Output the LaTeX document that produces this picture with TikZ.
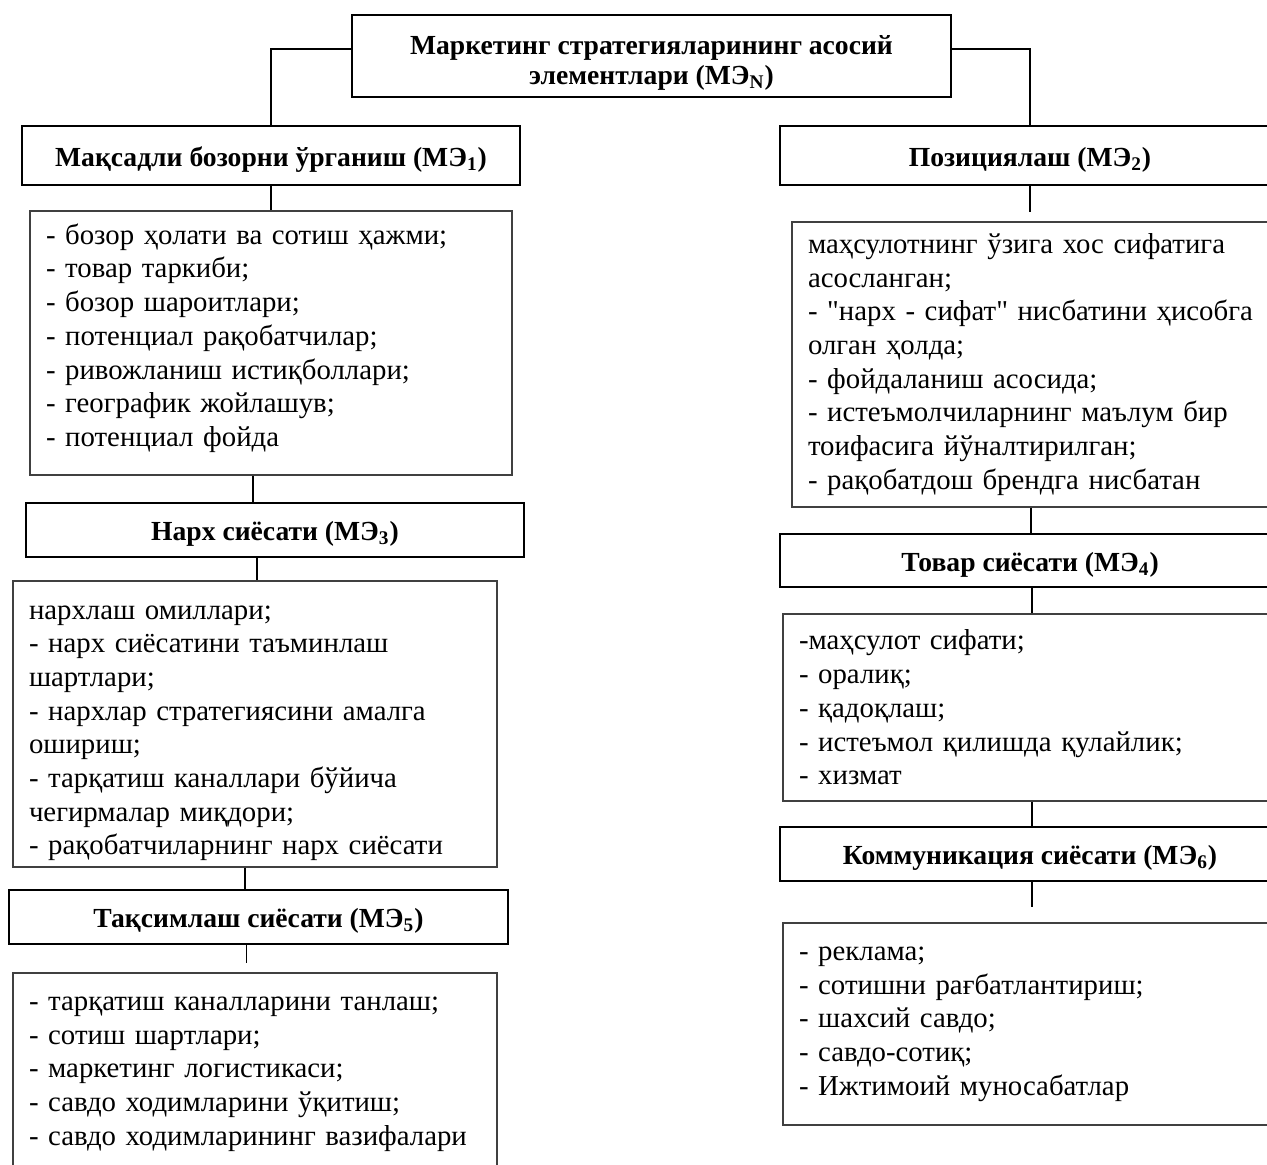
\documentclass[tikz,border=0pt]{standalone}
\usepackage{fontspec}
\setmainfont{Liberation Serif}
\usetikzlibrary{positioning}

\begin{document}
\begin{tikzpicture}[x=0.5pt, y=-0.5pt, line width=0.8pt,
  headbox/.style={draw=black, line width=1.2pt, font=\fontsize{13.8}{15}\selectfont\bfseries,
                  align=center, minimum width=249pt, minimum height=27pt, inner sep=2pt,
                  text height=13.5pt, text depth=3pt},
  listbox/.style={draw=black!75, line width=0.7pt, font=\fontsize{14.4}{16.85}\selectfont,
                  align=left, text width=#1, inner xsep=8pt, inner ysep=3pt},
  conn/.style={black, line width=0.8pt}
]

% Page
\path[use as bounding box, fill=white] (0,0) rectangle (1267,1164);

% Root
\node[draw=black, line width=1.2pt, font=\fontsize{13.8}{15}\selectfont\bfseries, align=center,
      minimum width=299.5pt, minimum height=41pt, inner sep=2pt] (root) at (651.5,56)
  {\rule{0pt}{16.5pt}Маркетинг стратегияларининг асосий\\элементлари (МЭ\textsubscript{N})};

% Left column
\node[headbox, minimum height=29.5pt] (me1) at (271,155.5) {Мақсадли бозорни ўрганиш (МЭ\textsubscript{1})};
\node[listbox=225pt, minimum height=132pt] (list1) at (271,343)
  {- бозор ҳолати ва сотиш ҳажми;\\
   - товар таркиби;\\
   - бозор шароитлари;\\
   - потенциал рақобатчилар;\\
   - ривожланиш истиқболлари;\\
   - географик жойлашув;\\
   - потенциал фойда\rule[-8pt]{0pt}{8pt}};
\node[headbox] (me3) at (275,530) {Нарх сиёсати (МЭ\textsubscript{3})};
\node[listbox=226pt, minimum height=141pt] (list3) at (255,724)
  {\rule{0pt}{16pt}нархлаш омиллари;\\
   - нарх сиёсатини таъминлаш\\
   шартлари;\\
   - нархлар стратегиясини амалга\\
   ошириш;\\
   - тарқатиш каналлари бўйича\\
   чегирмалар миқдори;\\
   - рақобатчиларнинг нарх сиёсати};
\node[headbox, minimum width=249.5pt] (me5) at (258.5,917) {Тақсимлаш сиёсати (МЭ\textsubscript{5})};
\node[listbox=226pt, minimum height=101pt] (list5) at (255,1074)
  {- тарқатиш каналларини танлаш;\\
   - сотиш шартлари;\\
   - маркетинг логистикаси;\\
   - савдо ходимларини ўқитиш;\\
   - савдо ходимларининг вазифалари};

% Right column
\node[headbox, minimum width=250pt, minimum height=29.5pt] (me2) at (1030,155.5) {Позициялаш (МЭ\textsubscript{2})};
\node[listbox=234pt, minimum height=142.5pt] (list2) at (1042,364.5)
  {маҳсулотнинг ўзига хос сифатига\\
   асосланган;\\
   - \textquotedbl нарх - сифат\textquotedbl{} нисбатини ҳисобга\\
   олган ҳолда;\\
   - фойдаланиш асосида;\\
   - истеъмолчиларнинг маълум бир\\
   тоифасига йўналтирилган;\\
   - рақобатдош брендга нисбатан};
\node[headbox, minimum width=250pt, minimum height=26.5pt] (me4) at (1030,560.5) {Товар сиёсати (МЭ\textsubscript{4})};
\node[listbox=234pt, minimum height=93.5pt] (list4) at (1033,707.5)
  {-маҳсулот сифати;\\
   - оралиқ;\\
   - қадоқлаш;\\
   - истеъмол қилишда қулайлик;\\
   - хизмат};
\node[headbox, minimum width=250pt] (me6) at (1030,854) {Коммуникация сиёсати (МЭ\textsubscript{6})};
\node[listbox=234pt, minimum height=101pt] (list6) at (1033,1024)
  {- реклама;\\
   - сотишни рағбатлантириш;\\
   - шахсий савдо;\\
   - савдо-сотиқ;\\
   - Ижтимоий муносабатлар};

% Connections from root
\draw[conn] ([yshift=3.5pt]root.west) -| (me1.north);
\draw[conn] ([yshift=3.5pt]root.east) -| (me2.north);

% Left chain
\draw[conn] (me1.south) -- (list1.north);
\draw[conn] (list1.south) ++(-18,0) coordinate (c1) -- (c1 |- me3.north);
\draw[conn] (me3.south) ++(-18,0) coordinate (c3) -- (c3 |- list3.north);
\draw[conn] (list3.south) ++(-10,0) coordinate (c4) -- (c4 |- me5.north);
\draw[conn] (me5.south) ++(-12,0) coordinate (c5) -- ++(0,18);

% Right chain
\draw[conn] (me2.south) -- ++(0,26);
\draw[conn] (list2.south) ++(-11,0) coordinate (c2) -- (c2 |- me4.north);
\draw[conn] (me4.south) ++(2,0) coordinate (c6) -- (c6 |- list4.north);
\draw[conn] (list4.south) ++(-1,0) coordinate (c7) -- (c7 |- me6.north);
\draw[conn] (me6.south) ++(2,0) coordinate (c8) -- ++(0,25);

\end{tikzpicture}
\end{document}
